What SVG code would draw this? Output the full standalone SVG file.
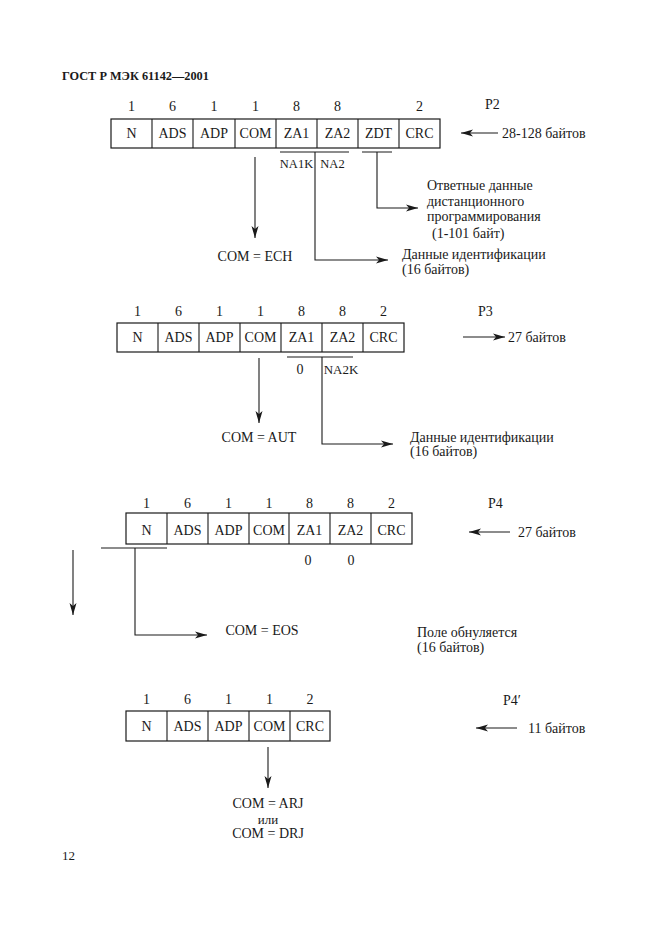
<svg xmlns="http://www.w3.org/2000/svg" width="661" height="936" viewBox="0 0 661 936">
<defs>
<marker id="ah" viewBox="0 0 12 8" refX="12" refY="4" markerWidth="12" markerHeight="8" markerUnits="userSpaceOnUse" orient="auto">
<path d="M0,0.5 L12,4 L0,7.5 L3,4 Z" fill="#1a1a1a"/>
</marker>
</defs>
<style>
text{font-family:"Liberation Serif","Times New Roman",serif;fill:#1a1a1a;font-size:14px}
.c{text-anchor:middle}
.h{font-weight:bold;font-size:12.3px}
.cell{fill:#fff;stroke:#1a1a1a;stroke-width:1.2}
.ln{fill:none;stroke:#1a1a1a;stroke-width:1.1}
.ar{fill:none;stroke:#1a1a1a;stroke-width:1.1;marker-end:url(#ah)}
</style>
<rect width="661" height="936" fill="#fff"/>
<text class="h" x="62" y="80">ГОСТ Р МЭК 61142—2001</text>

<g id="P2">
<rect class="cell" x="111" y="119" width="329" height="29"/>
<path class="ln" d="M152,119V148M193,119V148M235,119V148M276,119V148M317,119V148M358,119V148M399,119V148"/>
<g class="c">
<text x="131.5" y="111">1</text><text x="172.5" y="111">6</text><text x="214" y="111">1</text><text x="255.5" y="111">1</text><text x="296.5" y="111">8</text><text x="337.5" y="111">8</text><text x="419.5" y="111">2</text>
<text x="131.5" y="138">N</text><text x="172.5" y="138">ADS</text><text x="214" y="138">ADP</text><text x="255.5" y="138">COM</text><text x="296.5" y="138">ZA1</text><text x="337.5" y="138">ZA2</text><text x="378.5" y="138">ZDT</text><text x="419.5" y="138">CRC</text>
<text x="296.5" y="168" style="font-size:12.5px">NA1K</text><text x="332.5" y="168" style="font-size:12.5px">NA2</text>
</g>
<text x="485" y="109">P2</text>
<text x="502" y="138">28-128 байтов</text>
<text x="427" y="190">Ответные данные</text>
<text x="427" y="206">дистанционного</text>
<text x="427" y="221">программирования</text>
<text x="432" y="238">(1-101 байт)</text>
<text x="402" y="259">Данные идентификации</text>
<text x="402" y="274">(16 байтов)</text>
<text class="c" x="255" y="261">COM = ECH</text>
</g>

<g id="P3">
<rect class="cell" x="117" y="323" width="287" height="29"/>
<path class="ln" d="M158,323V352M199,323V352M240,323V352M281,323V352M322,323V352M363,323V352"/>
<g class="c">
<text x="137.5" y="316">1</text><text x="178.5" y="316">6</text><text x="219.5" y="316">1</text><text x="260.5" y="316">1</text><text x="301.5" y="316">8</text><text x="342.5" y="316">8</text><text x="383.5" y="316">2</text>
<text x="137.5" y="342">N</text><text x="178.5" y="342">ADS</text><text x="219.5" y="342">ADP</text><text x="260.5" y="342">COM</text><text x="301.5" y="342">ZA1</text><text x="342.5" y="342">ZA2</text><text x="383.5" y="342">CRC</text>
<text x="300" y="374">0</text><text x="341" y="374" style="font-size:13px">NA2K</text>
</g>
<text x="478" y="316">P3</text>
<text x="508" y="342">27 байтов</text>
<text x="410" y="442">Данные идентификации</text>
<text x="410" y="456">(16 байтов)</text>
<text class="c" x="259" y="442">COM = AUT</text>
</g>

<g id="P4">
<rect class="cell" x="126" y="513" width="286" height="31"/>
<path class="ln" d="M167,513V544M208,513V544M249,513V544M289,513V544M330,513V544M371,513V544"/>
<g class="c">
<text x="146.5" y="508">1</text><text x="187.5" y="508">6</text><text x="228.5" y="508">1</text><text x="269" y="508">1</text><text x="309.5" y="508">8</text><text x="350.5" y="508">8</text><text x="391.5" y="508">2</text>
<text x="146.5" y="535">N</text><text x="187.5" y="535">ADS</text><text x="228.5" y="535">ADP</text><text x="269" y="535">COM</text><text x="309.5" y="535">ZA1</text><text x="350.5" y="535">ZA2</text><text x="391.5" y="535">CRC</text>
<text x="308" y="565">0</text><text x="351" y="565">0</text>
</g>
<text x="488" y="508">P4</text>
<text x="518" y="537">27 байтов</text>
<text class="c" x="262" y="635">COM = EOS</text>
<text x="417" y="637">Поле обнуляется</text>
<text x="417" y="652">(16 байтов)</text>
</g>

<g id="P4p">
<rect class="cell" x="126" y="711" width="204" height="30"/>
<path class="ln" d="M167,711V741M208,711V741M249,711V741M290,711V741"/>
<g class="c">
<text x="146.5" y="704">1</text><text x="187.5" y="704">6</text><text x="228.5" y="704">1</text><text x="269.5" y="704">1</text><text x="310" y="704">2</text>
<text x="146.5" y="731">N</text><text x="187.5" y="731">ADS</text><text x="228.5" y="731">ADP</text><text x="269.5" y="731">COM</text><text x="310" y="731">CRC</text>
<text x="268" y="808">COM = ARJ</text>
<text x="268" y="824" style="font-size:13px">или</text>
<text x="268" y="838">COM = DRJ</text>
</g>
<text x="503" y="705">P4′</text>
<text x="528" y="733">11 байтов</text>
</g>

<text x="62" y="860" style="font-size:13px">12</text>

<g id="connectors">
<path class="ln" d="M280,152H349M362,152H392"/>
<path class="ar" d="M255,157V238"/>
<path class="ar" d="M315,152V260H388"/>
<path class="ar" d="M377,152V208H418"/>
<path class="ar" d="M498,133H461"/>

<path class="ln" d="M287,357H353"/>
<path class="ar" d="M259,358V423"/>
<path class="ar" d="M322,357V444H393"/>
<path class="ar" d="M463,337H505"/>

<path class="ln" d="M101,548H167"/>
<path class="ar" d="M135,548V635H207"/>
<path class="ar" d="M73,550V615"/>
<path class="ar" d="M510,532H469"/>

<path class="ar" d="M268,747V788"/>
<path class="ar" d="M517,728H476"/>
</g>
</svg>
